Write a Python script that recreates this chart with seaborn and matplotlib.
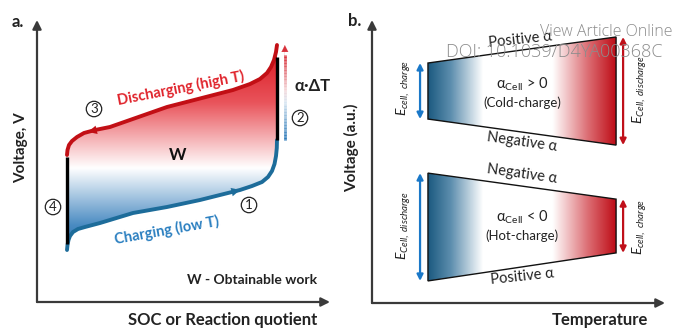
import numpy as np
import pandas as pd
import matplotlib
matplotlib.use("Agg")
import matplotlib.pyplot as plt
import seaborn as sns
from matplotlib.colors import LinearSegmentedColormap
from matplotlib.patches import Polygon
from matplotlib.collections import LineCollection

# ---------------- data (panel a: SOC %, voltage arb. 0-100) ----------------
soc_charge = [10.24, 10.41, 10.75, 11.26, 12.29, 13.99, 16.38, 21.50, 32.76, 44.37,
              55.63, 69.28, 73.38, 76.79, 78.84, 80.20, 81.06, 81.57, 81.84, 81.91]
v_charge = [18.44, 20.21, 21.99, 23.40, 24.82, 25.89, 26.60, 28.01, 31.56, 33.69,
            36.17, 39.72, 41.13, 42.55, 44.33, 46.45, 48.94, 51.77, 54.61, 57.45]
soc_discharge = [10.24, 10.41, 10.92, 11.95, 13.65, 16.04, 19.80, 24.91, 44.37,
                 66.89, 72.70, 76.11, 78.50, 79.86, 80.89, 81.57, 81.91]
v_discharge = [52.13, 53.90, 55.67, 57.09, 58.51, 59.93, 60.99, 62.06, 69.15,
               75.18, 77.30, 79.08, 81.21, 83.33, 85.82, 88.65, 91.13]
step4_soc, step4_v = [10.24, 10.24], [20.5, 51.3]     # isothermal step at low SOC
step2_soc, step2_v = [81.91, 81.91], [57.45, 86.9]    # heating step at high SOC
dT_soc, dT_v = [84.6, 84.6], [57.4, 91.1]             # alpha*dT arrow
arrow_charge_soc = [65.5, 69.28]
arrow_discharge_soc = [22.0, 17.5]

# ---------------- data (panel b: temperature, voltage 0-100) ----------------
temp = [19.1, 83.3]
upper_top = [84.8, 94.0]
upper_bot = [65.0, 55.8]
lower_top = [45.9, 36.7]
lower_bot = [7.8, 17.7]
e_arrow_x = [16.4, 85.7]

sns.set_theme(style="white")
plt.rcParams['font.family'] = ['Lato', 'DejaVu Sans']
plt.rcParams['mathtext.fontset'] = 'custom'
plt.rcParams['mathtext.rm'] = 'Lato'
plt.rcParams['mathtext.it'] = 'Lato:italic'
plt.rcParams['mathtext.bf'] = 'Lato:bold'

W, H = 674, 329
fig = plt.figure(figsize=(W / 100, H / 100), dpi=100)
fig.patch.set_facecolor('white')

def fpos(px, py):
    return px / W, 1 - py / H

AX_COL = '#3a3a3a'
RED_LINE = '#c20f15'
BLUE_LINE = '#1d6c9a'

def draw_axes_arrows(ax):
    ax.set_axis_off()
    kw = dict(arrowstyle='-|>', color=AX_COL, lw=1.6, mutation_scale=13,
              shrinkA=0, shrinkB=0)
    ax.annotate('', xy=(0, 1), xytext=(0, 0), xycoords='axes fraction',
                textcoords='axes fraction', arrowprops=kw, annotation_clip=False)
    ax.annotate('', xy=(1, 0), xytext=(0, 0), xycoords='axes fraction',
                textcoords='axes fraction', arrowprops=kw, annotation_clip=False)

# ======================= panel a =======================
axa = fig.add_axes([37 / W, 1 - 302 / H, 293 / W, 282 / H])
draw_axes_arrows(axa)

cmap_a = LinearSegmentedColormap.from_list('a', [
    (0.0, '#2a6fab'), (0.12, '#4a8bc2'), (0.40, '#ffffff'),
    (0.72, '#e9545b'), (1.0, '#d8121c')])
poly_pts = list(zip(soc_charge, v_charge)) + list(zip(soc_discharge[::-1], v_discharge[::-1]))
poly = Polygon(poly_pts, closed=True, fc='none', ec='none')
axa.add_patch(poly)
grad = np.linspace(0, 1, 256).reshape(-1, 1)
im = axa.imshow(grad, extent=[min(soc_charge), max(soc_charge), min(v_charge), max(v_discharge)],
                origin='lower', cmap=cmap_a, aspect='auto', zorder=1)
im.set_clip_path(poly)

df_c = pd.DataFrame({'soc': soc_charge, 'v': v_charge})
df_d = pd.DataFrame({'soc': soc_discharge, 'v': v_discharge})
sns.lineplot(data=df_c, x='soc', y='v', sort=False, ax=axa, color=BLUE_LINE, lw=2.8,
             solid_capstyle='round', zorder=3)
sns.lineplot(data=df_d, x='soc', y='v', sort=False, ax=axa, color=RED_LINE, lw=2.8,
             solid_capstyle='round', zorder=3)
axa.plot(step4_soc, step4_v, color='black', lw=2.4, zorder=4, solid_capstyle='butt')
axa.plot(step2_soc, step2_v, color='black', lw=2.4, zorder=4, solid_capstyle='butt')

# arrow heads on curves
vc = np.interp(arrow_charge_soc, soc_charge, v_charge)
axa.annotate('', xy=(arrow_charge_soc[1], vc[1]), xytext=(arrow_charge_soc[0], vc[0]),
             arrowprops=dict(arrowstyle='-|>', color=BLUE_LINE, lw=0.1, mutation_scale=15,
                             shrinkA=0, shrinkB=0), zorder=5)
sd = np.interp(arrow_discharge_soc[::-1], soc_discharge, v_discharge)[::-1]
axa.annotate('', xy=(arrow_discharge_soc[1], sd[1]), xytext=(arrow_discharge_soc[0], sd[0]),
             arrowprops=dict(arrowstyle='-|>', color=RED_LINE, lw=0.1, mutation_scale=15,
                             shrinkA=0, shrinkB=0), zorder=5)

# gradient alpha*dT arrow
yy = np.linspace(dT_v[0], dT_v[1] - 3.5, 60)
segs = [[(dT_soc[0], yy[i]), (dT_soc[0], yy[i + 1])] for i in range(len(yy) - 1)]
cmap_arr = LinearSegmentedColormap.from_list('arr', [
    (0, '#2a78b8'), (0.45, '#d9e7f2'), (0.6, '#f4d6d8'), (1, '#d8303a')])
lc = LineCollection(segs, colors=cmap_arr(np.linspace(0, 1, len(segs))), lw=2.0, zorder=3)
axa.add_collection(lc)
axa.annotate('', xy=(dT_soc[0], dT_v[1]), xytext=(dT_soc[0], dT_v[1] - 4),
             arrowprops=dict(arrowstyle='-|>', color='#d8303a', lw=0.1, mutation_scale=12,
                             shrinkA=0, shrinkB=0), zorder=4)

axa.set_xlim(0, 100)
axa.set_ylim(0, 100)

# panel a texts
fig.text(*fpos(18, 22), 'a.', fontsize=12, fontweight='bold', ha='center', va='center', color='#222')
fig.text(*fpos(21, 148), 'Voltage, V', fontsize=11, fontweight='bold', rotation=90,
         ha='center', va='center', color='#222')
fig.text(*fpos(223, 320), 'SOC or Reaction quotient', fontsize=12, fontweight='bold',
         ha='center', va='center', color='#222')
fig.text(*fpos(252, 280), 'W - Obtainable work', fontsize=10, fontweight='bold',
         ha='center', va='center', color='#222')
fig.text(*fpos(181, 88), 'Discharging (high T)', fontsize=10.5, fontweight='bold',
         rotation=11, ha='center', va='center', color='#e0242c')
fig.text(*fpos(167, 230), 'Charging (low T)', fontsize=10.5, fontweight='bold',
         rotation=10, ha='center', va='center', color='#2a7fc0')
fig.text(*fpos(178, 155), 'W', fontsize=12, fontweight='bold', ha='center', va='center', color='#111')
fig.text(*fpos(313, 86), 'α·ΔT', fontsize=12, fontweight='bold', ha='center', va='center', color='#222')
for lbl, (px, py) in zip(['1', '2', '3', '4'], [(249, 205), (300, 118), (94, 109), (53, 207)]):
    fig.text(*fpos(px, py), lbl, fontsize=9.5, ha='center', va='center', color='#222',
             bbox=dict(boxstyle='circle,pad=0.13', fc='white', ec='#222', lw=0.9))

# ======================= panel b =======================
axb = fig.add_axes([372 / W, 1 - 303 / H, 293 / W, 283 / H])
draw_axes_arrows(axb)
cmap_b = LinearSegmentedColormap.from_list('b', [
    (0.0, '#1c5a80'), (0.12, '#5d8eae'), (0.29, '#ffffff'), (0.66, '#ffffff'),
    (0.85, '#dc6c72'), (1.0, '#bd0a14')])
gradh = np.linspace(0, 1, 256).reshape(1, -1)
for top, bot in [(upper_top, upper_bot), (lower_top, lower_bot)]:
    pts = [(temp[0], bot[0]), (temp[1], bot[1]), (temp[1], top[1]), (temp[0], top[0])]
    pg = Polygon(pts, closed=True, fc='none', ec='#111', lw=1.0, zorder=3)
    axb.add_patch(pg)
    img = axb.imshow(gradh, extent=[temp[0], temp[1], min(bot), max(top)], origin='lower',
                     cmap=cmap_b, aspect='auto', zorder=2)
    img.set_clip_path(pg)
    # double arrows
    axb.annotate('', xy=(e_arrow_x[0], top[0]), xytext=(e_arrow_x[0], bot[0]),
                 arrowprops=dict(arrowstyle='<|-|>', color='#1a78c8', lw=1.6,
                                 mutation_scale=9, shrinkA=0, shrinkB=0))
    axb.annotate('', xy=(e_arrow_x[1], top[1]), xytext=(e_arrow_x[1], bot[1]),
                 arrowprops=dict(arrowstyle='<|-|>', color='#c0101a', lw=1.6,
                                 mutation_scale=9, shrinkA=0, shrinkB=0))
axb.set_xlim(0, 100)
axb.set_ylim(0, 100)

fig.text(*fpos(355, 21), 'b.', fontsize=12, fontweight='bold', ha='center', va='center', color='#222')
fig.text(*fpos(352, 148), 'Voltage (a.u.)', fontsize=11, fontweight='bold', rotation=90,
         ha='center', va='center', color='#222')
fig.text(*fpos(600, 320), 'Temperature', fontsize=12, fontweight='bold',
         ha='center', va='center', color='#222')

TXT = '#222'
fig.text(*fpos(404, 88), r'$E_{cell,\ charge}$', fontsize=10, rotation=90, ha='center', va='center', color=TXT)
fig.text(*fpos(640, 90), r'$E_{Cell,\ discharge}$', fontsize=10, rotation=90, ha='center', va='center', color=TXT)
fig.text(*fpos(404, 226), r'$E_{Cell,\ discharge}$', fontsize=10, rotation=90, ha='center', va='center', color=TXT)
fig.text(*fpos(640, 227), r'$E_{cell,\ charge}$', fontsize=10, rotation=90, ha='center', va='center', color=TXT)
fig.text(*fpos(522, 84), r'α$_\mathregular{Cell}$ > 0', fontsize=10.5, ha='center', va='center', color=TXT)
fig.text(*fpos(522, 103), '(Cold-charge)', fontsize=9.5, ha='center', va='center', color=TXT)
fig.text(*fpos(522, 217), r'α$_\mathregular{Cell}$ < 0', fontsize=10.5, ha='center', va='center', color=TXT)
fig.text(*fpos(522, 236), '(Hot-charge)', fontsize=9.5, ha='center', va='center', color=TXT)
fig.text(*fpos(520, 40), 'Positive α', fontsize=10.5, rotation=6, ha='center', va='center', color=TXT)
fig.text(*fpos(522, 142), 'Negative α', fontsize=10.5, rotation=-8, ha='center', va='center', color=TXT)
fig.text(*fpos(522, 174), 'Negative α', fontsize=10.5, rotation=-8, ha='center', va='center', color=TXT)
fig.text(*fpos(522, 277), 'Positive α', fontsize=10.5, rotation=6, ha='center', va='center', color=TXT)

# watermark
fig.text(*fpos(672, 32), 'View Article Online', fontsize=11.5, ha='right', va='center',
         color='#8c8c8c', family=['Open Sans', 'DejaVu Sans'], fontweight='light')
fig.text(*fpos(663, 52), 'DOI: 10.1039/D4YA00368C', fontsize=13, ha='right', va='center',
         color='#8c8c8c', family=['Open Sans', 'DejaVu Sans'], fontweight='light')

fig.savefig('out.png', dpi=100, facecolor='white')
